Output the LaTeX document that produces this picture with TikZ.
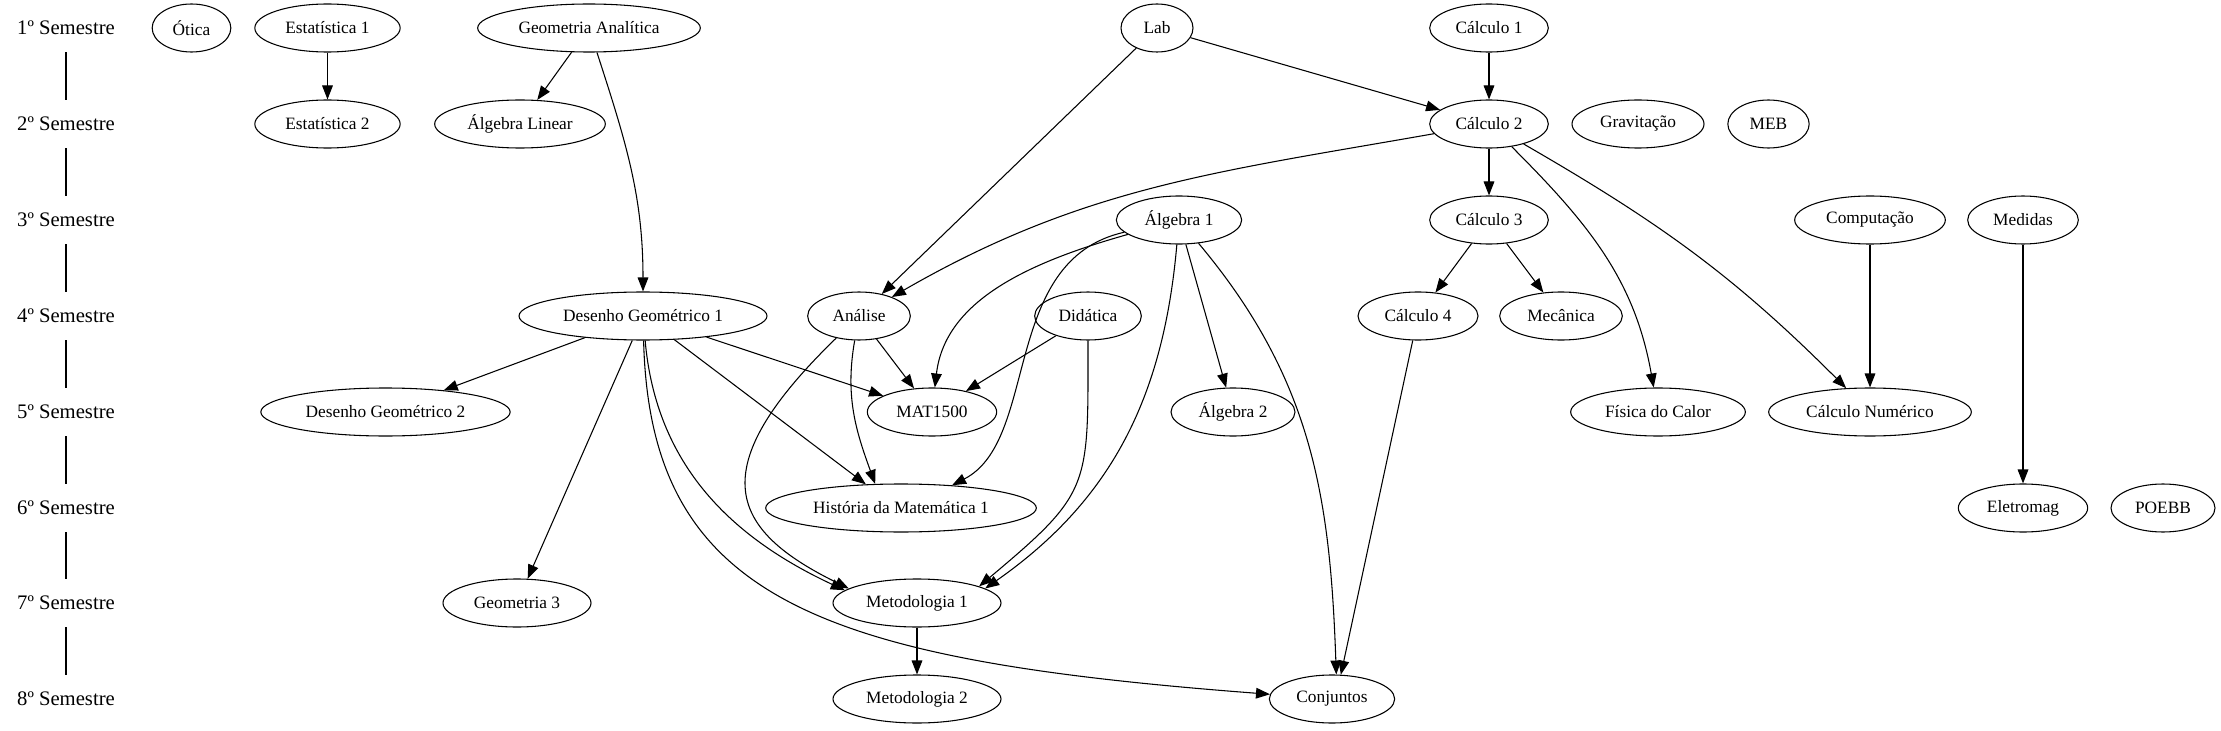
\documentclass[tikz,border=0pt]{standalone}
\usepackage{fontspec}
\setmainfont{Liberation Serif}
\usetikzlibrary{shapes.geometric,arrows.meta}

\begin{document}
\begin{tikzpicture}[x=0.75pt, y=-0.75pt,
    font=\fontsize{13}{15}\selectfont,
    materia/.style={ellipse, draw, line width=0.8pt, inner sep=0pt, minimum height=36pt, minimum width=#1},
    semestre/.style={inner sep=0pt, minimum height=36pt, font=\fontsize{15.5}{17}\selectfont},
    req/.style={-{Triangle[length=10.5pt,width=8pt]}, line width=0.8pt},
    linha/.style={line width=0.8pt}]

    % Marco de la figura
    \useasboundingbox (0,0) rectangle (2221,731);

    % Semestres
    \node[semestre] (s1) at (66,28) {1º Semestre};
    \node[semestre] (s2) at (66,124) {2º Semestre};
    \node[semestre] (s3) at (66,220) {3º Semestre};
    \node[semestre] (s4) at (66,316) {4º Semestre};
    \node[semestre] (s5) at (66,412) {5º Semestre};
    \node[semestre] (s6) at (66,508) {6º Semestre};
    \node[semestre] (s7) at (66,603) {7º Semestre};
    \node[semestre] (s8) at (66,699) {8º Semestre};

    % 1º semestre
    \node[materia=59pt] (otica) at (191.5,28) {Ótica};
    \node[materia=109pt] (est1) at (327.5,28) {Estatística 1};
    \node[materia=167pt] (geoan) at (589,28) {Geometria Analítica};
    \node[materia=54pt] (lab) at (1157,28) {Lab};
    \node[materia=89pt] (calc1) at (1489,28) {Cálculo 1};
    % 2º semestre
    \node[materia=109pt] (est2) at (327.5,124) {Estatística 2};
    \node[materia=128pt] (alglin) at (520,124) {Álgebra Linear};
    \node[materia=89pt] (calc2) at (1489,124) {Cálculo 2};
    \node[materia=99pt] (grav) at (1638,124) {Gravitação};
    \node[materia=61pt] (meb) at (1768.5,124) {MEB};
    % 3º semestre
    \node[materia=94pt] (alg1) at (1179,220) {Álgebra 1};
    \node[materia=89pt] (calc3) at (1489,220) {Cálculo 3};
    \node[materia=113pt] (comp) at (1870,220) {Computação};
    \node[materia=83pt] (med) at (2023,220) {Medidas};
    % 4º semestre
    \node[materia=186pt] (dg1) at (643,316) {Desenho Geométrico 1};
    \node[materia=77pt] (anal) at (859,316) {Análise};
    \node[materia=80pt] (dida) at (1088,316) {Didática};
    \node[materia=90pt] (calc4) at (1418,316) {Cálculo 4};
    \node[materia=92pt] (mec) at (1561,316) {Mecânica};
    % 5º semestre
    \node[materia=187pt] (dg2) at (385.5,412) {Desenho Geométrico 2};
    \node[materia=97pt] (mat) at (932,412) {MAT1500};
    \node[materia=93pt] (alg2) at (1233,412) {Álgebra 2};
    \node[materia=131pt] (fiscal) at (1658,412) {Física do Calor};
    \node[materia=152pt] (calcnum) at (1870,412) {Cálculo Numérico};
    % 6º semestre
    \node[materia=203pt] (hist) at (901,508) {História da Matemática 1};
    \node[materia=97pt] (eletro) at (2023,508) {Eletromag};
    \node[materia=78pt] (poebb) at (2163,508) {POEBB};
    % 7º semestre
    \node[materia=111pt] (geo3) at (517,603) {Geometria 3};
    \node[materia=126pt] (met1) at (917,603) {Metodologia 1};
    % 8º semestre
    \node[materia=126pt] (met2) at (917,699) {Metodologia 2};
    \node[materia=94pt] (conj) at (1332,699) {Conjuntos};

    % Requisitos
    \draw[req] (est1) -- (est2);
    \draw[req] (geoan) -- (alglin);
    \draw[req] (geoan) to[out=-72, in=90] (dg1);
    \draw[req] (lab) -- (calc2);
    \draw[req] (lab) -- (anal);
    \draw[req] (calc1) -- (calc2);
    \draw[req] (calc2) to[out=190, in=30] (anal);
    \draw[req] (calc2) -- (calc3);
    \draw[req] (calc2) to[out=-45, in=100] (fiscal);
    \draw[req] (calc2) to[out=-30, in=135] (calcnum);
    \draw[req] (calc3) -- (calc4);
    \draw[req] (calc3) -- (mec);
    \draw[req] (comp) -- (calcnum);
    \draw[req] (med) -- (eletro);
    \draw[req] (alg1) .. controls (1030,262) and (945,300) .. (mat);
    \draw[req] (alg1) .. controls (1000,260) and (1040,440) .. (hist.24);
    \draw[req] (alg1) to[out=-95, in=35] (met1.12);
    \draw[req] (alg1) -- (alg2);
    \draw[req] (alg1) to[out=-50, in=92] (conj.80);
    \draw[req] (calc4) -- (conj.70);
    \draw[req] (dg1) -- (dg2);
    \draw[req] (dg1) -- (mat);
    \draw[req] (dg1) -- (hist.146);
    \draw[req] (dg1) -- (geo3);
    \draw[req] (dg1) to[out=-85, in=155] (met1.170);
    \draw[req] (dg1) .. controls (650,600) and (820,660) .. (conj);
    \draw[req] (anal) -- (mat);
    \draw[req] (anal) to[out=-100, in=110] (hist.137);
    \draw[req] (anal) .. controls (700,470) and (730,530) .. (met1.168);
    \draw[req] (dida) -- (mat);
    \draw[req] (dida) to[out=-90, in=40, looseness=1.4] (met1.15);
    \draw[req] (met1) -- (met2);

    % Linha dos semestres
    \draw[linha] (s1.south) -- (s2.north);
    \draw[linha] (s2.south) -- (s3.north);
    \draw[linha] (s3.south) -- (s4.north);
    \draw[linha] (s4.south) -- (s5.north);
    \draw[linha] (s5.south) -- (s6.north);
    \draw[linha] (s6.south) -- (s7.north);
    \draw[linha] (s7.south) -- (s8.north);
\end{tikzpicture}
\end{document}
